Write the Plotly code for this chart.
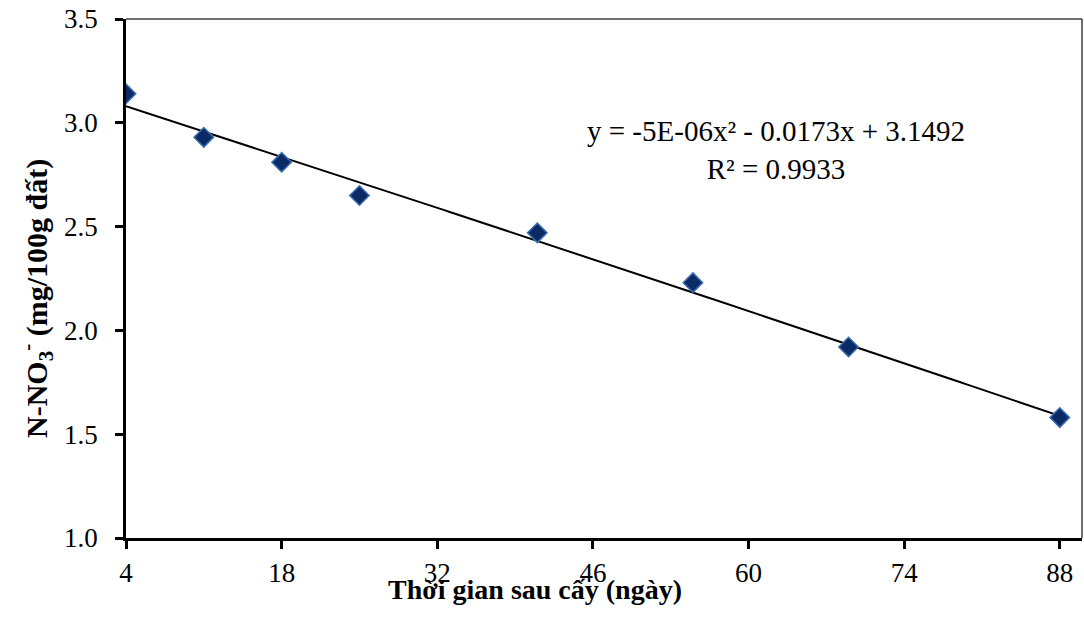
import numpy as np
import plotly.graph_objects as go

# Days after transplanting and measured soil nitrate
days = [4, 11, 18, 25, 41, 55, 69, 88]
nitrate = [3.14, 2.93, 2.81, 2.65, 2.47, 2.23, 1.92, 1.58]

# Polynomial trendline coefficients (a*x^2 + b*x + c) and fit quality
coef_a, coef_b, coef_c = -5e-06, -0.0173, 3.1492
r_squared = 0.9933

x_ticks = [4, 18, 32, 46, 60, 74, 88]
y_ticks = [1.0, 1.5, 2.0, 2.5, 3.0, 3.5]

FONT = "Liberation Serif, Times New Roman, serif"

# plot area in pixels
L, R, T, B = 126, 1082, 19, 538
W, H = 1084, 618

trend_x = np.linspace(min(days), max(days), 200)
trend_y = coef_a * trend_x**2 + coef_b * trend_x + coef_c

fig = go.Figure()
fig.add_trace(go.Scatter(
    x=trend_x, y=trend_y, mode="lines",
    line=dict(color="black", width=2), hoverinfo="skip", showlegend=False,
))
fig.add_trace(go.Scatter(
    x=days, y=nitrate, mode="markers",
    marker=dict(symbol="diamond", size=15, color="#0b2a66",
                line=dict(color="#3a6fb0", width=1.5)),
    showlegend=False,
))

fig.update_xaxes(
    range=[4, 90], tickmode="array", tickvals=x_ticks,
    showline=True, linecolor="black", linewidth=2.5,
    ticks="outside", ticklen=8, tickwidth=2.5, tickcolor="black",
    ticklabelstandoff=1,
    showgrid=False, zeroline=False,
    tickfont=dict(family=FONT, size=27, color="black"),
)
fig.update_yaxes(
    range=[1.0, 3.5], tickmode="array", tickvals=y_ticks,
    tickformat=".1f",
    showline=True, linecolor="black", linewidth=2.5,
    ticks="outside", ticklen=8, tickwidth=2.5, tickcolor="black",
    ticklabelstandoff=12,
    showgrid=False, zeroline=False,
    tickfont=dict(family=FONT, size=27, color="black"),
)

# Thin frame along the top and right of the plot area
fig.add_shape(type="line", xref="paper", yref="paper", x0=0, x1=1, y0=1, y1=1,
              line=dict(color="#404040", width=1.5))
fig.add_shape(type="line", xref="paper", yref="paper", x0=1, x1=1, y0=0, y1=1,
              line=dict(color="#404040", width=1.5))

eq_text = f"y = {coef_a:.0E}x² - {abs(coef_b)}x + {coef_c}<br>R² = {r_squared}"
fig.add_annotation(
    x=(776 - L) / (R - L), y=(B - 150) / (B - T), xref="paper", yref="paper",
    showarrow=False, text=eq_text, align="center",
    xanchor="center", yanchor="middle",
    font=dict(family=FONT, size=29, color="black"),
)
fig.add_annotation(
    x=(535 - L) / (R - L), y=-(589 - B) / (B - T), xref="paper", yref="paper",
    showarrow=False, text="<b>Thời gian sau cấy (ngày)</b>",
    xanchor="center", yanchor="middle",
    font=dict(family=FONT, size=28, color="black"),
)
fig.add_annotation(
    x=-(L - 36) / (R - L), y=(B - 299) / (B - T), xref="paper", yref="paper",
    showarrow=False, textangle=-90,
    text="<b>N-NO<sub>3</sub><sup>-</sup> (mg/100g đất)</b>",
    xanchor="center", yanchor="middle",
    font=dict(family=FONT, size=30, color="black"),
)

fig.update_layout(
    width=W, height=H,
    margin=dict(l=L, r=W - R, t=T, b=H - B),
    paper_bgcolor="white", plot_bgcolor="white",
)

fig.write_html("out.html")
